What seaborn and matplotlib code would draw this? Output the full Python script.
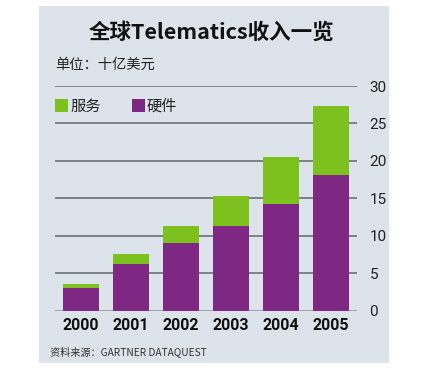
import matplotlib
matplotlib.use("Agg")
import matplotlib.pyplot as plt
import seaborn as sns
import pandas as pd
from matplotlib.patches import Rectangle

years = ["2000", "2001", "2002", "2003", "2004", "2005"]
hardware = [3.0, 6.2, 9.0, 11.3, 14.3, 18.1]
services = [0.6, 1.4, 2.35, 4.0, 6.2, 9.2]
yticks = [0, 5, 10, 15, 20, 25, 30]

title = "全球Telematics收入一览"
unit = "单位：十亿美元"
legend_labels = ["服务", "硬件"]
source = "资料来源：GARTNER DATAQUEST"

sns.set_theme(style="white")
plt.rcParams['font.family'] = ['Noto Sans CJK SC', 'DejaVu Sans']

GREEN = "#7cc11d"
PURPLE = "#7e2783"
BG = "#dde3ea"

df = pd.DataFrame({"year": years, "hardware": hardware, "services": services})
df["total"] = df["hardware"] + df["services"]

W, H = 442, 378
fig = plt.figure(figsize=(W / 100, H / 100), dpi=100)
fig.patch.set_facecolor("white")
fig.patches.append(Rectangle((39 / W, 1 - 363 / H), (389 - 39) / W, (363 - 6) / H,
                             transform=fig.transFigure, facecolor=BG, edgecolor="none", zorder=-10))

ax = fig.add_axes([55 / W, 1 - 310.7 / H, (357 - 55) / W, (310.7 - 86) / H])
ax.set_zorder(1)
ax.set_facecolor("none")
ax.patch.set_alpha(0)

sns.barplot(data=df, x="year", y="total", color=GREEN, width=0.72, ax=ax,
            saturation=1, edgecolor="none", zorder=3)
sns.barplot(data=df, x="year", y="hardware", color=PURPLE, width=0.72, ax=ax,
            saturation=1, edgecolor="none", zorder=4)

ax.set_ylim(0, 30)
ax.set_xlim(-0.516, 5.524)
for v in yticks:
    ax.axhline(v, color="#63676d" if v else "#8a9096", lw=1.1, zorder=2)
for s in ax.spines.values():
    s.set_visible(False)
ax.set_xlabel("")
ax.set_ylabel("")
ax.yaxis.tick_right()
ax.set_yticks(yticks)
ax.set_yticklabels([str(v) for v in yticks], fontsize=11, color="#222222",
                   family=['Roboto', 'DejaVu Sans'])
ax.tick_params(axis="y", length=0, pad=9)
ax.tick_params(axis="x", length=0, pad=5)
ax.set_xticks(range(len(years)))
ax.set_xticklabels(years, fontsize=11.5, fontweight="bold", color="#111111",
                   family=['Roboto', 'DejaVu Sans'])

fig.text(211 / W, 1 - 32 / H, title, ha="center", va="center", fontsize=15.5,
         fontweight="bold", color="#111111")
fig.text(55 / W, 1 - 65 / H, unit, ha="left", va="center", fontsize=10.3, color="#222222")

fig.patches.append(Rectangle((55 / W, 1 - 112 / H), 13 / W, 13 / H, transform=fig.transFigure,
                             facecolor=GREEN, edgecolor="none", zorder=5))
fig.text(70 / W, 1 - 106 / H, legend_labels[0], ha="left", va="center", fontsize=11, color="#222222")
fig.patches.append(Rectangle((132 / W, 1 - 112 / H), 13 / W, 13 / H, transform=fig.transFigure,
                             facecolor=PURPLE, edgecolor="none", zorder=5))
fig.text(147 / W, 1 - 106 / H, legend_labels[1], ha="left", va="center", fontsize=11, color="#222222")

fig.text(50 / W, 1 - 352 / H, source, ha="left", va="center", fontsize=7.3, color="#333333")

fig.savefig("out.png", dpi=100)
